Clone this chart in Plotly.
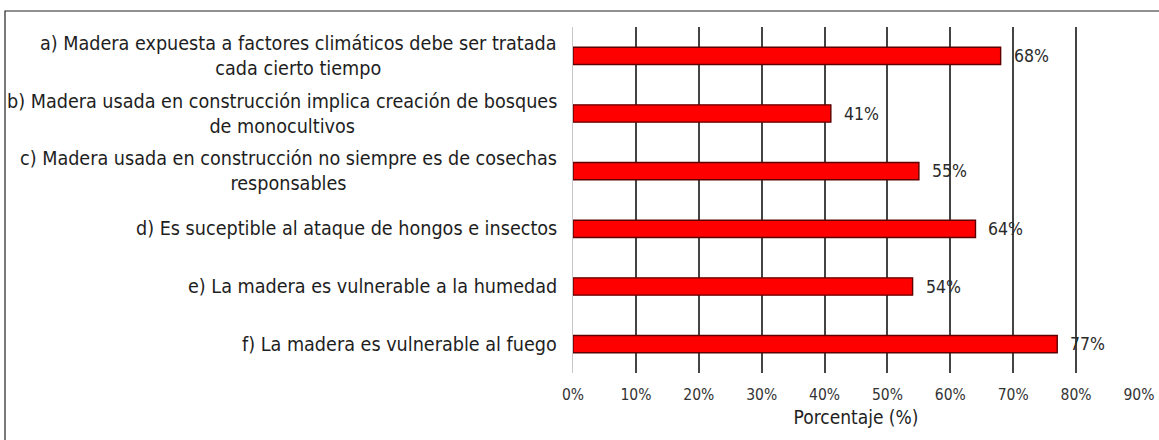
import plotly.graph_objects as go

# Survey statements (two-line ones split with <br>)
categories = [
    "a) Madera expuesta a factores climáticos debe ser tratada<br>cada cierto tiempo",
    "b) Madera usada en construcción implica creación de bosques<br>de monocultivos",
    "c) Madera usada en construcción no siempre es de cosechas<br>responsables",
    "d) Es suceptible al ataque de hongos e insectos",
    "e) La madera es vulnerable a la humedad",
    "f) La madera es vulnerable al fuego",
]
keys = ["a", "b", "c", "d", "e", "f"]
values = [0.68, 0.41, 0.55, 0.64, 0.54, 0.77]
tick_vals = [0, 0.1, 0.2, 0.3, 0.4, 0.5, 0.6, 0.7, 0.8, 0.9]
tick_text = ["0%", "10%", "20%", "30%", "40%", "50%", "60%", "70%", "80%", "90%"]
x_title = "Porcentaje (%)"

FONT = "DejaVu Sans Condensed, Liberation Sans Narrow, sans-serif"

W, H = 1159, 440
ML, MR, MT, MB = 573, 20, 27, 67
PW, PH = W - ML - MR, H - MT - MB

fig = go.Figure()
fig.add_trace(go.Bar(
    y=keys,
    x=values,
    orientation="h",
    width=0.3,
    marker=dict(color="#ff0000", line=dict(color="#5e0000", width=1.4)),
    cliponaxis=False,
    hoverinfo="skip",
))

# Value labels just past each bar end
for k, v in zip(keys, values):
    fig.add_annotation(
        x=v, xref="x", y=k, yref="y",
        text=f"{round(v * 100)}%", showarrow=False,
        xanchor="left", yanchor="middle", xshift=11,
        font=dict(family=FONT, size=17.5, color="#2a2a2a"),
    )

# Statement labels, right-aligned to the axis with centred second lines
for k, label in zip(keys, categories):
    fig.add_annotation(
        x=0, xref="paper", y=k, yref="y",
        text=label, showarrow=False,
        xanchor="right", yanchor="middle", align="center",
        xshift=-14,
        font=dict(family=FONT, size=19.6, color="#1e1e1e"),
    )

# Outer frame around the whole chart
def px_to_paper_x(px):
    return (px - ML) / PW

def px_to_paper_y(py):
    return 1 - (py - MT) / PH

fig.add_shape(
    type="rect", xref="paper", yref="paper",
    x0=px_to_paper_x(5), x1=px_to_paper_x(1165),
    y0=px_to_paper_y(446), y1=px_to_paper_y(11),
    line=dict(color="#222222", width=1.2), fillcolor="rgba(0,0,0,0)",
    layer="below",
)

fig.update_layout(
    width=W, height=H,
    margin=dict(l=ML, r=MR, t=MT, b=MB, autoexpand=False),
    paper_bgcolor="white", plot_bgcolor="white",
    showlegend=False,
    bargap=0.7,
    xaxis=dict(
        range=[0, 0.9],
        tickvals=tick_vals, ticktext=tick_text,
        showgrid=True, gridcolor="#444444", gridwidth=1.5,
        zeroline=False, showline=False,
        ticks="", ticklen=0,
        ticklabelstandoff=10,
        tickfont=dict(family=FONT, size=15.5, color="#333333"),
        title=dict(text=x_title, font=dict(family=FONT, size=19, color="#1e1e1e"), standoff=8),
        automargin=False,
        fixedrange=True,
    ),
    yaxis=dict(
        categoryorder="array", categoryarray=keys,
        autorange="reversed",
        showticklabels=False, showgrid=False,
        showline=True, linecolor="#c8c8c8", linewidth=1.2,
        zeroline=False, ticks="",
        automargin=False,
        fixedrange=True,
    ),
)

fig.write_html("out.html")
